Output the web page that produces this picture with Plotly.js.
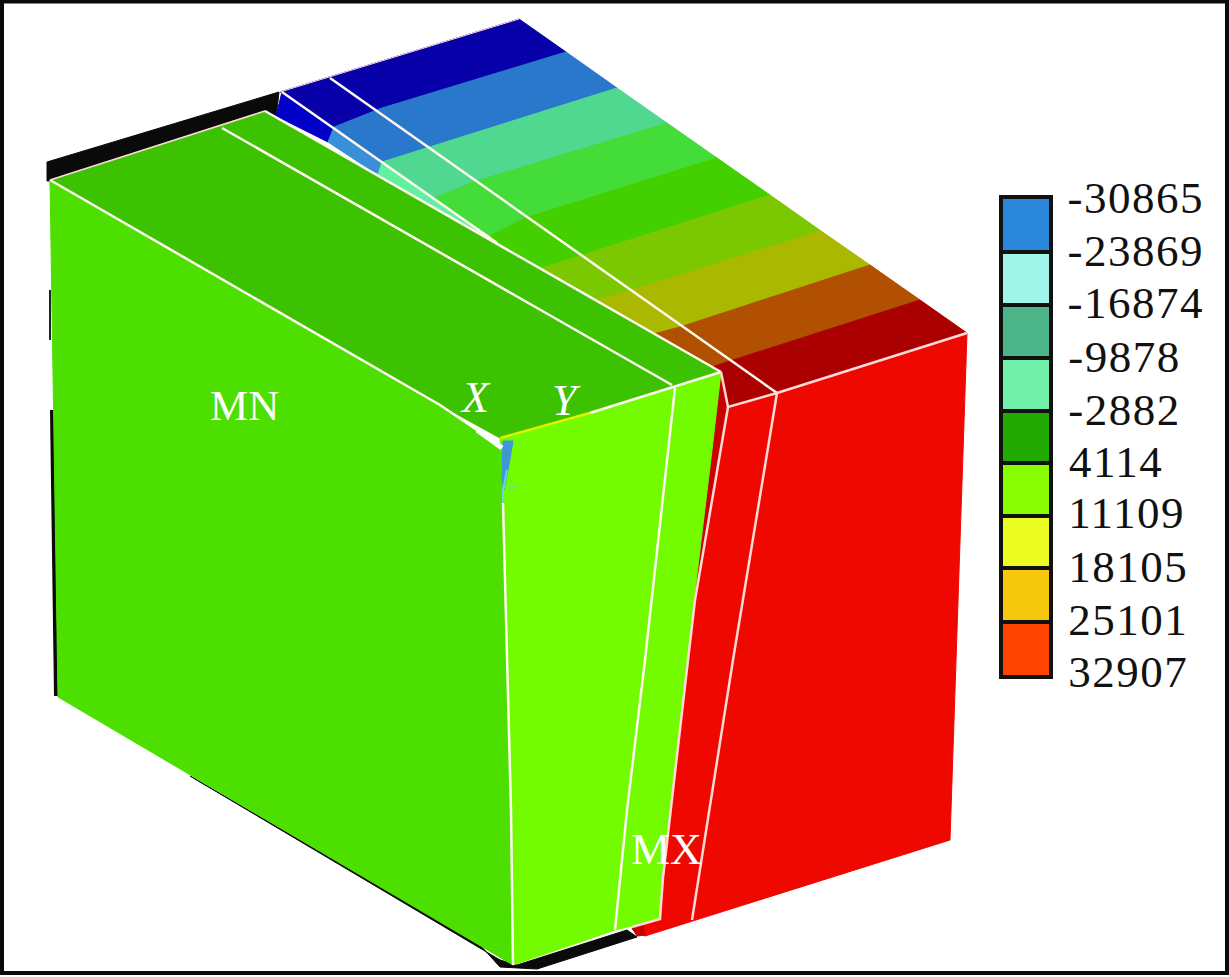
<!DOCTYPE html>
<html>
<head>
<meta charset="utf-8">
<script src="https://cdn.plot.ly/plotly-3.0.1.min.js"></script>
<style>
html,body{margin:0;padding:0;background:#fff;overflow:hidden}
#chart{width:1229px;height:977px}
</style>
</head>
<body>
<div id="chart"></div>
<script>
// Contour levels of the legend
const levelLabels = ["-30865","-23869","-16874","-9878","-2882","4114","11109","18105","25101","32907"];
const levelColors = ["#2a86d8","#a0f5e8","#4cb58a","#70f0a8","#22aa00","#88fc00","#eafc20","#f5c80e","#ff4400"];

// Black rigid plate remnants
const plateTopX = [47,279,276,265,50,47];
const plateTopY = [162,92,118,110,181,181];
const plateBottomX = [190,500,517,627,637,537,500,480];
const plateBottomY = [776,960,965,930,937,969,967,945];

// Contour bands on the upper sloping face
const band0X = [280,519,566,382,334,282];
const band0Y = [92,19,52,108,127,92];
const band1X = [566,617,430,382,334,382];
const band1Y = [52,88,147,162,127,108];
const band2X = [617,667,473,434,382,430];
const band2Y = [88,123,182,198,162,147];
const band3X = [667,717,525,490,434,473];
const band3Y = [123,158,218,236,198,182];
const band4X = [717,770,583,542,500,490,525];
const band4Y = [158,195,255,268,250,236,218];
const band5X = [770,821,632,598,542,583];
const band5Y = [195,231,290,300,268,255];
const band6X = [821,870,680,650,598,632];
const band6Y = [231,265,327,335,300,290];
const band7X = [870,920,733,712,650,680];
const band7Y = [265,300,360,370,335,327];
const band8X = [920,967,777,728,718,712,733];
const band8Y = [300,333,393,407,373,367,360];

// Narrow strip next to the front face
const strip0X = [282,334,328,276];
const strip0Y = [92,127,142,116];
const strip1X = [334,382,378,328];
const strip1Y = [127,162,175,142];
const strip2X = [382,497,378];
const strip2Y = [162,243,175];

// Main faces
const redFaceX = [720,728,777,967,950,645,632,660];
const redFaceY = [373,407,393,333,840,936,929,918];
const darkStripX = [720,728,695,689];
const darkStripY = [373,407,600,640];
const notchX = [632,643,645,637];
const notchY = [928,923,935,936];
const limeFaceX = [500,721,712,690,673,663,660,615,513,503];
const limeFaceY = [438,372,450,633,787,877,919,930,965,503];
const leftFaceX = [50,440,503,503,513,58];
const leftFaceY = [180,405,450,503,965,697];
const topFaceX = [50,265,721,500,440];
const topFaceY = [180,111,372,438,405];

// Low-stress sliver at the corner
const sliverX = [503,513,509,504,502];
const sliverY = [441,441,465,490,480];

// Element edges drawn white on the mesh
const edgeAX = [330,777]; const edgeAY = [78,393];
const edgeBX = [282,382,497]; const edgeBY = [92,162,243];
const edgeCX = [265,721]; const edgeCY = [111,372];
const edgeDX = [222,672]; const edgeDY = [128,385];
const edgeEX = [675,645,627,615]; const edgeEY = [388,660,810,930];
const edgeFX = [503,511,513]; const edgeFY = [503,810,965];
const edgeGX = [728,695,688,673,663,660,632]; const edgeGY = [407,600,660,787,877,919,927];
const edgeHX = [777,733,692]; const edgeHY = [393,660,920];
const edgeXX = [50,440,477]; const edgeXY = [180,405,430];
const edgeYX = [590,721]; const edgeYY = [413,372];
const edgeBackX = [280,519]; const edgeBackY = [92,19];
const edgeTopX = [50,265]; const edgeTopY = [180,111];
const edgeRidgeX = [721,728,777,967]; const edgeRidgeY = [372,407,393,333];
const cornerX = [477,502]; const cornerY = [430,448];
const yellowX = [500,590]; const yellowY = [438,413];
const sliverLineX = [507,503,503]; const sliverLineY = [470,490,503];
const sliverTickX = [503,518]; const sliverTickY = [487,487];

// Black fragments on the left edge
const leftBlackAX = [50,50]; const leftBlackAY = [290,340];
const leftBlackBX = [52,56]; const leftBlackBY = [410,696];

const traces = [];
function poly(x,y,color){
  traces.push({type:"scatter",mode:"lines",x:x.concat(x[0]),y:y.concat(y[0]),fill:"toself",
    fillcolor:color,line:{color:color,width:1},hoverinfo:"skip",showlegend:false});
}
function line(x,y,color,w){
  traces.push({type:"scatter",mode:"lines",x:x,y:y,line:{color:color,width:w},hoverinfo:"skip",showlegend:false});
}

poly(plateTopX,plateTopY,"#0a0a0a");
poly(plateBottomX,plateBottomY,"#0a0a0a");
line(leftBlackAX,leftBlackAY,"#222",2);
line(leftBlackBX,leftBlackBY,"#0a0a0a",4);

poly(band0X,band0Y,"#0800a8");
poly(band1X,band1Y,"#2a78cc");
poly(band2X,band2Y,"#50d890");
poly(band3X,band3Y,"#44dc38");
poly(band4X,band4Y,"#44cf00");
poly(band5X,band5Y,"#7cc800");
poly(band6X,band6Y,"#aab800");
poly(band7X,band7Y,"#b05000");
poly(band8X,band8Y,"#aa0000");
poly(strip0X,strip0Y,"#0000c8");
poly(strip1X,strip1Y,"#3a90d8");
poly(strip2X,strip2Y,"#60f0a0");

poly(redFaceX,redFaceY,"#ee0800");
poly(darkStripX,darkStripY,"#c80000");
poly(notchX,notchY,"#c80000");
poly(limeFaceX,limeFaceY,"#73fb00");
poly(leftFaceX,leftFaceY,"#4ddf00");
poly(topFaceX,topFaceY,"#3cc200");

poly(sliverX,sliverY,"#3f96d8");
line(sliverLineX,sliverLineY,"#70d0e8",2);
line(sliverTickX,sliverTickY,"#70d8c0",1.5);

const w = "#fff8ee", p = "#ffd8d8";
line(edgeAX,edgeAY,w,2.5);
line(edgeBX,edgeBY,w,2.5);
line(edgeCX,edgeCY,w,2.5);
line(edgeDX,edgeDY,w,2.5);
line(edgeEX,edgeEY,w,2.5);
line(edgeFX,edgeFY,w,2.5);
line(edgeGX,edgeGY,p,2.5);
line(edgeHX,edgeHY,p,2.5);
line(edgeXX,edgeXY,w,2.5);
line(edgeYX,edgeYY,w,2.5);
line(edgeBackX,edgeBackY,p,1);
line(edgeTopX,edgeTopY,p,1.5);
line(edgeRidgeX,edgeRidgeY,p,2.5);
line(cornerX,cornerY,"#ffffff",5);
line(yellowX,yellowY,"#e4f000",2.5);

// Legend swatches and labels, placed by the axes
const legendSeparators = [197,252,305,358,411,463,516,568,622,677];
const labelCentres = [198,251,303,357,410,462,513,567,620,672];
const shapes = [];
levelColors.forEach(function(c,i){
  shapes.push({type:"rect",xref:"x",yref:"y",x0:1001,x1:1051,
    y0:legendSeparators[i],y1:legendSeparators[i+1],fillcolor:c,line:{color:"#111",width:4}});
});
shapes.push({type:"rect",xref:"x",yref:"y",x0:2,x1:1227,y0:1.5,y1:973,fillcolor:"rgba(0,0,0,0)",line:{color:"#0a0a0a",width:4}});

const annotations = levelLabels.map(function(t,i){
  return {xref:"x",yref:"y",x:1071,y:labelCentres[i],text:t,showarrow:false,xanchor:"left",yanchor:"middle",
    borderpad:0,font:{family:"Liberation Serif",size:45,color:"#111"}};
});
function note(text,x,y,size,italic){
  const t = italic ? "<i>"+text+"</i>" : text;
  annotations.push({xref:"x",yref:"y",x:x,y:y,text:t,showarrow:false,xanchor:"center",yanchor:"middle",
    font:{family:"Liberation Serif",size:size,color:"#ffffff"}});
}
note("MN",244,405,43,false);
note("X",475,397,44,true);
note("Y",566,400,44,true);
note("MX",666,849,44,false);

Plotly.newPlot("chart",traces,{
  width:1229,height:977,margin:{l:0,r:0,t:0,b:0,pad:0},
  paper_bgcolor:"#ffffff",plot_bgcolor:"#ffffff",showlegend:false,
  xaxis:{range:[0,1229],visible:false,fixedrange:true},
  yaxis:{range:[977,0],visible:false,fixedrange:true},
  shapes:shapes,annotations:annotations
},{displayModeBar:false,staticPlot:true}).then(function(){
  document.querySelectorAll(".annotation-text").forEach(function(n,i){
    if(i<levelLabels.length) n.style.letterSpacing="1.5px";
  });
});
</script>
</body>
</html>
